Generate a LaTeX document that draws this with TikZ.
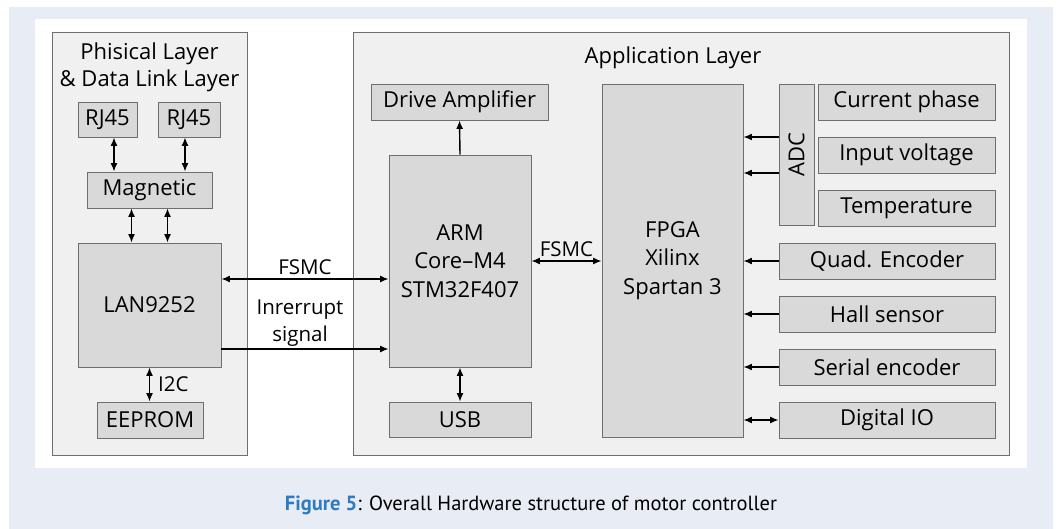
\documentclass[tikz,border=0pt]{standalone}
\usepackage{fontspec}
\setmainfont{Open Sans}
\newfontfamily\capfont{PT Sans}
\usepackage{tikz}
\usetikzlibrary{arrows.meta, positioning, calc, shadows}
\definecolor{pagebg}{HTML}{E7ECF5}
\definecolor{layerfill}{HTML}{F0F0F0}
\definecolor{boxfill}{HTML}{D9D9D9}
\definecolor{edgegray}{HTML}{6E6E6E}
\definecolor{figblue}{HTML}{2F7BBF}
\tikzset{
  hw layer/.style={
    rectangle, draw=edgegray, fill=layerfill, line width=0.9pt,
    inner sep=0pt, drop shadow={shadow xshift=1pt, shadow yshift=-1pt, fill=black!35, opacity=0.5}
  },
  hw box/.style={
    rectangle, draw=edgegray, fill=boxfill, line width=0.9pt,
    inner sep=0pt, minimum height=36pt,
    font=\fontsize{22}{28.5}\selectfont, text=black,
    drop shadow={shadow xshift=1pt, shadow yshift=-1pt, fill=black!35, opacity=0.5}
  },
  hw title/.style={
    font=\fontsize{22}{27}\selectfont, text=black, align=center, inner sep=0pt
  },
  hw arrow/.style={
    -{Latex[length=8.5pt,width=7pt]}, line width=1.4pt, draw=black
  },
  hw dbl/.style={
    {Latex[length=8.5pt,width=7pt]}-{Latex[length=8.5pt,width=7pt]}, line width=1.4pt, draw=black
  },
  hw label/.style={
    font=\fontsize{20.5}{27}\selectfont, text=black, align=center, inner sep=0pt
  }
}

\begin{document}
\begin{tikzpicture}[x=1pt, y=-1pt, align=center]
  \useasboundingbox (0,0) rectangle (1059,529);
  \fill[pagebg] (9,7) rectangle (1053,529);
  \fill[white] (35,19) rectangle (1027,468);

  % layers
  \node (phy) [hw layer, minimum width=195pt, minimum height=423pt] at (149.5,243.5) {};
  \node (app) [hw layer, minimum width=656pt, minimum height=423pt] at (681,243.5) {};
  \node (phyt) [hw title] at (149.5,67) {Phisical Layer\\\& Data Link Layer};
  \node (appt) [hw title] at (673,58) {Application Layer};

  % physical / data link side
  \node (rja) [hw box, minimum width=59pt, minimum height=35pt] at (107.5,119.5) {RJ45};
  \node (rjb) [hw box, minimum width=62pt, minimum height=35pt] at (189,119.5) {RJ45};
  \node (mag) [hw box, minimum width=125pt] at (149.5,190) {Magnetic};
  \node (lan) [hw box, minimum width=143pt, minimum height=124pt] at (149.5,305) {LAN9252};
  \node (eep) [hw box, minimum width=106pt] at (150,420) {EEPROM};

  % application side
  \node (drv) [hw box, minimum width=177pt] at (459.5,102) {Drive Amplifier};
  \node (arm) [hw box, minimum width=142pt, minimum height=212pt] at (460,261) {ARM\\Core--M4\\STM32F407};
  \node (usb) [hw box, minimum width=142pt, minimum height=35pt] at (460,419.5) {USB};
  \node (fpga) [hw box, minimum width=141pt, minimum height=353pt] at (672.5,260.5) {FPGA\\Xilinx\\Spartan 3};
  \node (adc) [hw box, minimum width=35pt, minimum height=141pt] at (796.5,154.5) {};
  \node [hw title, rotate=90] at (adc.center) {ADC};

  \node (cur) [hw box, minimum width=177pt] at (906.5,102) {Current phase};
  \node (vin) [hw box, minimum width=177pt] at (906.5,155) {Input voltage};
  \node (tmp) [hw box, minimum width=177pt] at (906.5,208) {Temperature};
  \node (qenc) [hw box, minimum width=216pt] at (887,261) {Quad. Encoder};
  \node (hall) [hw box, minimum width=216pt] at (887,314) {Hall sensor};
  \node (senc) [hw box, minimum width=216pt] at (887,367) {Serial encoder};
  \node (dio) [hw box, minimum width=216pt] at (887,420) {Digital IO};

  % connectors
  \draw [hw dbl] ([xshift=6.5pt]rja.south) -- ([xshift=6.5pt]rja.south |- mag.north);
  \draw [hw dbl] ([xshift=-4pt]rjb.south) -- ([xshift=-4pt]rjb.south |- mag.north);
  \draw [hw dbl] ([xshift=-18pt]mag.south) -- ([xshift=-18pt]mag.south |- lan.north);
  \draw [hw dbl] ([xshift=18pt]mag.south) -- ([xshift=18pt]mag.south |- lan.north);
  \draw [hw dbl] (lan.south |- eep.north) -- (lan.south);
  \node (i2c) [hw label, anchor=west] at (158,384) {I2C};

  \draw [hw dbl] ([yshift=26pt]lan.east) -- ([yshift=26pt]lan.east -| arm.west)
    node [hw label, midway, above=4pt] {FSMC};
  \draw [hw arrow] ([yshift=-44pt]lan.east) -- ([yshift=-44pt]lan.east -| arm.west);
  \node (irq) [hw label] at (300,323) {Inrerrupt\\signal};

  \draw [hw arrow] (arm.north) -- (drv.south);
  \draw [hw dbl] (arm.south) -- (usb.north);
  \draw [hw dbl] (arm.east) -- (arm.east -| fpga.west)
    node [hw label, midway, above=4pt] {FSMC};

  \draw [hw arrow] ([yshift=17.5pt]adc.west) -- ([yshift=17.5pt]adc.west -| fpga.east);
  \draw [hw arrow] ([yshift=-18.5pt]adc.west) -- ([yshift=-18.5pt]adc.west -| fpga.east);
  \draw [hw arrow] (qenc.west) -- (qenc.west -| fpga.east);
  \draw [hw arrow] (hall.west) -- (hall.west -| fpga.east);
  \draw [hw arrow] (senc.west) -- (senc.west -| fpga.east);
  \draw [hw dbl] (dio.west) -- (dio.west -| fpga.east);

  % caption
  \node (cap) [font=\capfont\fontsize{20.5}{24}\selectfont, inner sep=0pt] at (531,505)
    {\textcolor{figblue}{\bfseries Figure 5}: Overall Hardware structure of motor controller};
\end{tikzpicture}
\end{document}
